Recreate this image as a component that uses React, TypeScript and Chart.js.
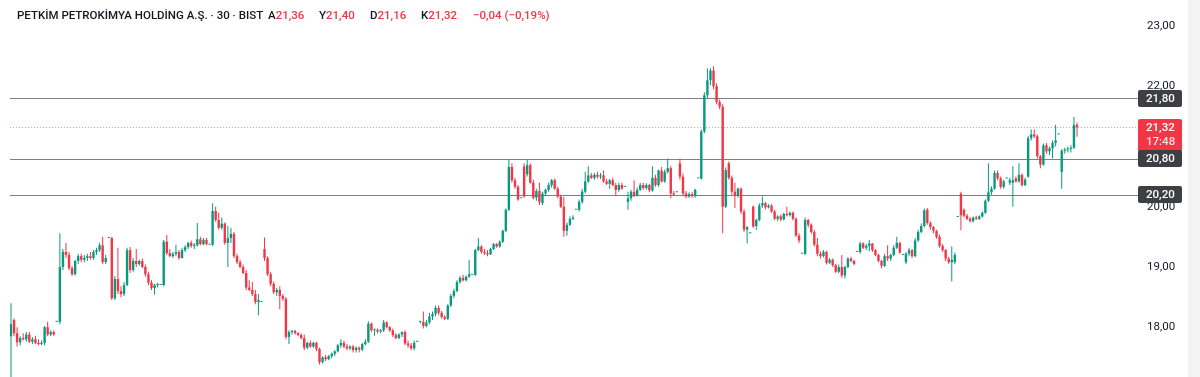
import React, { useEffect, useRef } from 'react';
import { Chart, registerables } from 'chart.js';

Chart.register(...registerables);

// ---- header texts ----
const symbolTitle = 'PETKİM PETROKİMYA HOLDİNG A.Ş. · 30 · BIST';
const ohlcLetters = ['A', 'Y', 'D', 'K'];
const ohlcValues = ['21,36', '21,40', '21,16', '21,32'];
const changeText = '−0,04 (−0,19%)';

// ---- price axis / levels ----
const yTickValues = [18, 19, 20, 21, 22, 23];
const yMinPrice = 17.174;
const yMaxPrice = 23.4315;
const levelPrices = [21.8, 20.8, 20.2];
const lastPrice = 21.32;
const countdownText = '17:48';

// ---- 30m candles [open, high, low, close] ----
const seg01 = [
  [17.85, 18.4, 17.15, 18.05], [18.12, 18.15, 17.85, 17.9], [17.9, 18.0, 17.68, 17.75], [17.75, 17.85, 17.7, 17.82],
  [17.82, 17.9, 17.78, 17.8], [17.8, 17.92, 17.76, 17.88], [17.88, 17.92, 17.74, 17.76], [17.76, 17.84, 17.72, 17.8],
  [17.8, 17.86, 17.72, 17.74], [17.74, 17.8, 17.7, 17.72], [17.72, 17.78, 17.7, 17.74], [17.74, 18.02, 17.7, 18.0],
  [18.0, 18.09, 17.85, 17.88], [17.88, 17.95, 17.85, 17.92], [17.92, 17.95, 17.86, 17.88], [18.09, 18.09, 18.09, 18.09],
];
const seg02 = [
  [18.09, 19.56, 18.05, 19.0], [19.0, 19.3, 18.95, 19.25], [19.25, 19.4, 19.15, 19.2], [19.2, 19.25, 18.95, 18.98],
  [18.98, 19.02, 18.85, 18.88], [18.88, 19.12, 18.86, 19.1], [19.1, 19.22, 19.05, 19.18], [19.18, 19.22, 19.08, 19.12],
  [19.12, 19.2, 19.08, 19.15], [19.15, 19.22, 19.1, 19.18], [19.18, 19.25, 19.12, 19.15], [19.15, 19.28, 19.12, 19.25],
  [19.25, 19.32, 19.2, 19.28], [19.28, 19.4, 19.25, 19.36], [19.36, 19.5, 19.05, 19.08], [19.08, 19.2, 19.05, 19.15],
  [19.48, 19.48, 19.48, 19.48],
];
const seg03 = [
  [19.48, 19.5, 18.45, 18.48], [18.48, 18.85, 18.45, 18.8], [18.8, 19.32, 18.55, 18.6], [18.6, 18.68, 18.5, 18.55],
  [18.55, 18.75, 18.52, 18.7], [18.7, 19.32, 18.68, 19.28], [19.28, 19.33, 18.9, 18.95], [18.95, 19.15, 18.92, 19.1],
  [19.1, 19.3, 19.0, 19.05], [19.05, 19.12, 19.02, 19.1], [19.1, 19.14, 18.98, 19.0], [19.0, 19.04, 18.84, 18.88],
  [18.88, 18.92, 18.7, 18.74], [18.74, 18.78, 18.62, 18.65], [18.65, 18.72, 18.54, 18.7], [18.7, 18.74, 18.66, 18.7],
  [18.7, 18.7, 18.7, 18.7],
];
const seg04 = [
  [18.7, 19.45, 18.68, 19.42], [19.42, 19.53, 19.2, 19.23], [19.23, 19.3, 19.16, 19.18], [19.18, 19.25, 19.15, 19.22],
  [19.22, 19.37, 19.18, 19.25], [19.25, 19.28, 19.12, 19.15], [19.15, 19.32, 19.14, 19.28], [19.28, 19.36, 19.25, 19.33],
  [19.33, 19.42, 19.3, 19.4], [19.4, 19.44, 19.32, 19.35], [19.35, 19.4, 19.3, 19.36], [19.36, 19.73, 19.34, 19.46],
  [19.46, 19.5, 19.36, 19.38], [19.38, 19.48, 19.36, 19.45], [19.45, 19.48, 19.36, 19.38], [19.37, 19.37, 19.37, 19.37],
];
const seg05 = [
  [19.37, 20.06, 19.35, 19.93], [19.93, 20.0, 19.75, 19.78], [19.78, 19.9, 19.62, 19.65], [19.65, 19.82, 19.62, 19.72],
  [19.72, 19.74, 19.37, 19.4], [19.4, 19.68, 19.0, 19.48], [19.48, 19.65, 19.4, 19.55], [19.55, 19.58, 19.15, 19.18],
  [19.18, 19.22, 19.05, 19.08], [19.08, 19.12, 18.98, 19.0], [19.0, 19.04, 18.88, 18.9], [18.9, 18.95, 18.62, 18.66],
  [18.66, 18.78, 18.6, 18.62], [18.62, 18.75, 18.52, 18.55], [18.55, 18.62, 18.38, 18.42], [18.42, 18.55, 18.2, 18.45],
  [18.42, 18.42, 18.42, 18.42],
];
const seg06 = [
  [19.3, 19.49, 19.1, 19.15], [19.15, 19.18, 18.85, 18.88], [18.88, 18.92, 18.68, 18.72], [18.72, 18.76, 18.55, 18.58],
  [18.58, 18.65, 18.52, 18.62], [18.62, 18.68, 18.3, 18.52], [18.52, 18.55, 18.44, 18.47], [18.47, 18.5, 17.8, 17.84],
  [17.84, 17.95, 17.72, 17.92], [17.92, 17.96, 17.88, 17.94], [17.94, 17.96, 17.88, 17.9], [17.9, 17.92, 17.85, 17.87],
  [17.87, 17.9, 17.8, 17.82], [17.82, 17.88, 17.62, 17.66], [17.66, 17.76, 17.64, 17.74], [17.74, 17.78, 17.66, 17.68],
  [17.68, 17.76, 17.66, 17.74],
];
const seg07 = [
  [17.74, 17.76, 17.6, 17.64], [17.64, 17.66, 17.38, 17.42], [17.42, 17.52, 17.4, 17.5], [17.5, 17.54, 17.44, 17.47],
  [17.47, 17.54, 17.45, 17.52], [17.52, 17.58, 17.48, 17.56], [17.56, 17.62, 17.52, 17.6], [17.6, 17.72, 17.58, 17.7],
  [17.7, 17.8, 17.66, 17.74], [17.74, 17.78, 17.65, 17.68], [17.68, 17.72, 17.62, 17.65], [17.65, 17.7, 17.62, 17.68],
  [17.68, 17.71, 17.58, 17.62], [17.62, 17.68, 17.58, 17.66], [17.66, 17.68, 17.58, 17.63], [17.63, 17.74, 17.6, 17.72],
  [17.72, 17.8, 17.7, 17.76],
];
const seg08 = [
  [17.76, 18.1, 17.74, 18.06], [18.06, 18.08, 17.92, 17.95], [17.95, 17.98, 17.86, 17.96], [17.96, 17.98, 17.9, 17.93],
  [17.93, 17.97, 17.9, 17.95], [17.95, 18.12, 17.92, 18.08], [18.08, 18.1, 17.98, 18.0], [18.0, 18.02, 17.92, 17.95],
  [17.95, 17.98, 17.84, 17.87], [17.87, 17.9, 17.8, 17.82], [17.82, 17.9, 17.8, 17.88], [17.88, 17.93, 17.84, 17.92],
  [17.92, 17.95, 17.7, 17.73], [17.73, 17.78, 17.66, 17.7], [17.7, 17.74, 17.62, 17.65], [17.65, 17.78, 17.62, 17.74],
  [17.76, 17.76, 17.76, 17.76],
];
const seg09 = [
  [18.09, 18.1, 18.06, 18.09], [18.09, 18.26, 17.98, 18.02], [18.02, 18.12, 18.0, 18.08], [18.08, 18.24, 18.05, 18.18],
  [18.18, 18.26, 18.12, 18.22], [18.22, 18.36, 18.18, 18.32], [18.32, 18.36, 18.2, 18.24], [18.24, 18.27, 18.14, 18.17],
  [18.17, 18.2, 18.12, 18.14], [18.14, 18.38, 18.12, 18.36], [18.36, 18.55, 18.33, 18.52], [18.52, 18.64, 18.48, 18.6],
  [18.6, 18.78, 18.58, 18.75], [18.75, 18.85, 18.72, 18.82], [18.82, 18.87, 18.76, 18.78], [18.78, 18.86, 18.76, 18.84],
  [18.84, 19.12, 18.82, 18.88], [18.87, 18.87, 18.87, 18.87],
];
const seg10 = [
  [18.87, 19.3, 18.85, 19.28], [19.28, 19.48, 19.26, 19.34], [19.34, 19.36, 19.22, 19.25], [19.25, 19.3, 19.2, 19.23],
  [19.23, 19.28, 19.18, 19.21], [19.21, 19.32, 19.2, 19.3], [19.3, 19.4, 19.28, 19.38], [19.38, 19.4, 19.32, 19.34],
  [19.34, 19.44, 19.32, 19.42], [19.42, 19.62, 19.4, 19.6], [19.6, 19.97, 19.58, 19.95], [19.95, 20.78, 19.93, 20.66],
  [20.66, 20.72, 20.4, 20.44], [20.44, 20.48, 20.3, 20.33], [20.33, 20.36, 20.1, 20.12], [20.14, 20.14, 20.14, 20.14],
];
const seg11 = [
  [20.67, 20.72, 20.15, 20.17], [20.54, 20.78, 20.5, 20.69], [20.69, 20.72, 20.38, 20.4], [20.4, 20.45, 20.12, 20.15],
  [20.15, 20.3, 20.1, 20.26], [20.26, 20.4, 20.03, 20.08], [20.06, 20.25, 20.03, 20.22], [20.22, 20.3, 20.18, 20.28],
  [20.28, 20.4, 20.25, 20.36], [20.36, 20.46, 20.32, 20.44], [20.44, 20.47, 20.28, 20.3], [20.3, 20.33, 20.14, 20.17],
  [20.17, 20.2, 19.98, 20.0], [20.0, 20.16, 19.5, 19.6], [19.6, 19.74, 19.52, 19.7], [19.7, 19.84, 19.68, 19.8],
  [19.8, 19.86, 19.78, 19.82], [19.95, 19.95, 19.95, 19.95],
];
const seg12 = [
  [19.95, 20.12, 19.92, 20.08], [20.08, 20.3, 20.05, 20.25], [20.25, 20.58, 20.22, 20.42], [20.42, 20.67, 20.4, 20.52],
  [20.52, 20.56, 20.46, 20.48], [20.48, 20.56, 20.45, 20.53], [20.53, 20.58, 20.47, 20.5], [20.5, 20.56, 20.46, 20.52],
  [20.52, 20.6, 20.4, 20.42], [20.42, 20.46, 20.36, 20.38], [20.38, 20.46, 20.3, 20.44], [20.44, 20.48, 20.34, 20.36],
  [20.36, 20.4, 20.19, 20.28], [20.28, 20.4, 20.25, 20.36], [20.36, 20.4, 20.28, 20.3], [20.33, 20.33, 20.33, 20.33],
];
const seg13 = [
  [20.08, 20.25, 19.95, 20.14], [20.14, 20.28, 20.1, 20.25], [20.25, 20.44, 20.16, 20.19], [20.19, 20.32, 20.17, 20.28],
  [20.28, 20.4, 20.26, 20.36], [20.36, 20.4, 20.28, 20.31], [20.31, 20.39, 20.28, 20.36], [20.36, 20.38, 20.24, 20.27],
  [20.27, 20.67, 20.25, 20.48], [20.48, 20.53, 20.33, 20.36], [20.36, 20.62, 20.33, 20.6], [20.6, 20.66, 20.4, 20.42],
  [20.42, 20.62, 20.4, 20.58], [20.58, 20.8, 20.55, 20.64], [20.64, 20.68, 20.14, 20.22], [20.22, 20.26, 20.18, 20.2],
  [20.24, 20.24, 20.24, 20.24],
];
const seg14 = [
  [20.72, 20.8, 20.45, 20.5], [20.5, 20.55, 20.18, 20.22], [20.22, 20.26, 20.14, 20.17], [20.17, 20.24, 20.15, 20.21],
  [20.21, 20.25, 20.15, 20.18], [20.18, 20.3, 20.15, 20.28], [20.47, 20.47, 20.47, 20.47], [20.47, 21.28, 20.45, 21.25],
  [21.25, 21.9, 21.22, 21.85], [21.85, 22.3, 21.8, 22.1], [22.1, 22.3, 22.02, 22.26], [22.26, 22.33, 21.95, 22.0],
  [22.0, 22.05, 21.7, 21.74], [21.74, 21.78, 21.62, 21.66], [21.66, 21.7, 19.56, 20.0], [20.0, 20.65, 19.98, 20.61],
  [20.72, 20.75, 20.45, 20.48],
];
const seg15 = [
  [20.48, 20.52, 20.2, 20.25], [20.25, 20.4, 19.98, 20.18], [20.18, 20.32, 20.15, 20.3], [20.3, 20.32, 19.88, 19.92],
  [19.92, 19.96, 19.58, 19.62], [19.62, 19.68, 19.39, 19.66], [19.56, 19.56, 19.56, 19.56], [20.0, 20.02, 19.65, 19.67],
  [19.68, 19.8, 19.62, 19.78], [19.78, 20.06, 19.76, 20.02], [20.02, 20.17, 19.98, 20.06], [20.06, 20.08, 19.96, 19.99],
  [19.99, 20.04, 19.97, 20.02], [20.02, 20.04, 19.9, 19.92], [19.92, 19.95, 19.78, 19.8], [19.8, 19.86, 19.76, 19.84],
  [19.84, 19.87, 19.76, 19.79], [19.79, 19.9, 19.77, 19.88], [19.88, 20.0, 19.84, 19.86], [19.86, 19.92, 19.84, 19.9],
  [19.9, 19.92, 19.77, 19.8], [19.8, 19.82, 19.5, 19.52], [19.52, 19.56, 19.4, 19.44], [19.22, 19.22, 19.22, 19.22],
];
const seg16 = [
  [19.22, 19.82, 19.2, 19.78], [19.78, 19.8, 19.66, 19.7], [19.7, 19.72, 19.55, 19.58], [19.58, 19.62, 19.34, 19.37],
  [19.37, 19.48, 19.18, 19.22], [19.22, 19.26, 19.14, 19.18], [19.18, 19.28, 19.16, 19.25], [19.25, 19.27, 19.04, 19.07],
  [19.07, 19.15, 19.05, 19.12], [19.12, 19.14, 19.0, 19.03], [19.03, 19.05, 18.9, 18.92], [18.92, 19.04, 18.9, 19.0],
  [19.0, 19.2, 18.82, 18.86], [18.86, 19.02, 18.81, 19.0], [19.0, 19.16, 18.98, 19.14], [19.14, 19.17, 19.08, 19.1],
  [19.1, 19.12, 19.03, 19.05], [19.25, 19.25, 19.25, 19.25],
];
const seg17 = [
  [19.25, 19.42, 19.22, 19.39], [19.39, 19.41, 19.3, 19.32], [19.32, 19.38, 19.28, 19.35], [19.35, 19.45, 19.26, 19.39],
  [19.39, 19.4, 19.25, 19.28], [19.28, 19.3, 19.18, 19.2], [19.2, 19.22, 19.08, 19.1], [19.1, 19.12, 18.98, 19.02],
  [19.02, 19.22, 19.0, 19.18], [19.18, 19.36, 19.1, 19.14], [19.14, 19.22, 19.1, 19.2], [19.2, 19.36, 19.18, 19.32],
  [19.32, 19.5, 19.3, 19.4], [19.4, 19.42, 19.22, 19.24], [19.2, 19.2, 19.2, 19.2],
];
const seg18 = [
  [19.08, 19.25, 19.05, 19.22], [19.22, 19.32, 19.18, 19.28], [19.28, 19.3, 19.15, 19.18], [19.18, 19.48, 19.16, 19.44],
  [19.44, 19.62, 19.42, 19.58], [19.58, 19.72, 19.56, 19.68], [19.68, 19.97, 19.66, 19.94], [19.95, 19.98, 19.7, 19.73],
  [19.73, 19.76, 19.62, 19.66], [19.66, 19.68, 19.56, 19.6], [19.6, 19.62, 19.47, 19.5], [19.5, 19.54, 19.32, 19.35],
  [19.35, 19.38, 19.25, 19.28], [19.28, 19.3, 19.1, 19.14], [19.14, 19.17, 19.05, 19.08], [19.08, 19.34, 18.76, 19.12],
  [19.08, 19.24, 19.05, 19.2], [19.83, 19.83, 19.83, 19.83],
];
const seg19 = [
  [20.22, 20.25, 19.61, 19.86], [19.95, 19.97, 19.83, 19.85], [19.85, 19.88, 19.78, 19.8], [19.8, 19.83, 19.74, 19.76],
  [19.76, 19.84, 19.74, 19.82], [19.82, 19.85, 19.78, 19.8], [19.8, 19.86, 19.78, 19.84], [19.84, 19.92, 19.82, 19.9],
  [19.9, 20.12, 19.88, 20.1], [20.1, 20.72, 20.08, 20.24], [20.24, 20.34, 20.2, 20.3], [20.3, 20.6, 20.28, 20.56],
  [20.56, 20.6, 20.44, 20.47], [20.47, 20.5, 20.3, 20.33], [20.33, 20.45, 20.3, 20.42], [20.47, 20.47, 20.47, 20.47],
];
const seg20 = [
  [20.4, 20.48, 20.36, 20.44], [20.4, 20.67, 20.0, 20.44], [20.47, 20.5, 20.4, 20.42], [20.42, 20.72, 20.4, 20.53],
  [20.53, 20.55, 20.33, 20.36], [20.36, 20.48, 20.34, 20.45], [20.5, 21.18, 20.48, 21.14], [21.14, 21.28, 21.1, 21.2],
  [21.2, 21.28, 21.14, 21.17], [21.17, 21.2, 20.8, 20.84], [20.84, 20.86, 20.64, 20.7], [20.7, 21.05, 20.68, 21.02],
  [21.02, 21.06, 20.88, 20.92], [20.92, 21.0, 20.86, 20.97], [20.97, 21.1, 20.8, 21.06], [21.06, 21.36, 21.0, 21.1],
  [21.2, 21.2, 21.2, 21.2],
];
const seg21 = [
  [20.58, 20.96, 20.3, 20.93], [20.93, 20.98, 20.88, 20.95], [20.95, 21.0, 20.9, 20.96], [20.96, 21.02, 20.9, 20.98],
  [20.98, 21.49, 20.96, 21.36], [21.36, 21.4, 21.16, 21.32],
];

const candles = [
  ...seg01, ...seg02, ...seg03, ...seg04, ...seg05, ...seg06, ...seg07, ...seg08, ...seg09, ...seg10, ...seg11,
  ...seg12, ...seg13, ...seg14, ...seg15, ...seg16, ...seg17, ...seg18, ...seg19, ...seg20, ...seg21,
];

const UP = '#089981';
const DOWN = '#f23645';
const TEXT = '#131722';
const FONT = "Roboto, 'Liberation Sans', Arial, sans-serif";

// layout (pixels)
const W = 1200;
const H = 377;
const PLOT_LEFT = 10;
const AXIS_W = 62;
const FIRST_X = 11;
const LAST_X = 1077;

function fmt(v: number) {
  return v.toFixed(2).replace('.', ',');
}

function roundRect(ctx: CanvasRenderingContext2D, x: number, y: number, w: number, h: number, r: number) {
  ctx.beginPath();
  ctx.moveTo(x + r, y);
  ctx.lineTo(x + w - r, y);
  ctx.quadraticCurveTo(x + w, y, x + w, y + r);
  ctx.lineTo(x + w, y + h - r);
  ctx.quadraticCurveTo(x + w, y + h, x + w - r, y + h);
  ctx.lineTo(x + r, y + h);
  ctx.quadraticCurveTo(x, y + h, x, y + h - r);
  ctx.lineTo(x, y + r);
  ctx.quadraticCurveTo(x, y, x + r, y);
  ctx.closePath();
}

const overlayPlugin = {
  id: 'tvOverlay',
  beforeDraw(chart: any) {
    const { ctx, width, height } = chart;
    ctx.save();
    ctx.fillStyle = '#ffffff';
    ctx.fillRect(0, 0, width, height);
    ctx.fillStyle = '#f3f3f3';
    ctx.fillRect(1188, 0, 12, height);
    ctx.restore();
  },
  beforeDatasetsDraw(chart: any) {
    const { ctx, chartArea } = chart;
    const y = chart.scales.y;
    ctx.save();
    const py = Math.round(y.getPixelForValue(lastPrice)) + 0.5;
    ctx.strokeStyle = 'rgba(242,54,69,0.55)';
    ctx.lineWidth = 1;
    ctx.setLineDash([1, 2]);
    ctx.beginPath();
    ctx.moveTo(chartArea.left, py);
    ctx.lineTo(chartArea.right, py);
    ctx.stroke();
    ctx.setLineDash([]);
    ctx.strokeStyle = '#808080';
    levelPrices.forEach((p) => {
      const yy = Math.round(y.getPixelForValue(p)) + 0.5;
      ctx.beginPath();
      ctx.moveTo(chartArea.left, yy);
      ctx.lineTo(chartArea.right, yy);
      ctx.stroke();
    });
    ctx.restore();
  },
  afterDraw(chart: any) {
    const { ctx, chartArea } = chart;
    const y = chart.scales.y;
    const bx = chartArea.right;
    const bw = 44;
    ctx.save();
    ctx.font = `500 11.5px ${FONT}`;
    ctx.textBaseline = 'middle';
    ctx.textAlign = 'left';
    const py = y.getPixelForValue(lastPrice);
    ctx.fillStyle = DOWN;
    roundRect(ctx, bx, Math.round(py - 8), bw, 33, 2);
    ctx.fill();
    ctx.fillStyle = '#ffffff';
    ctx.fillText(fmt(lastPrice), bx + 8, py + 0.5);
    ctx.fillStyle = 'rgba(255,255,255,0.85)';
    ctx.fillText(countdownText, bx + 8, py + 14.5);
    levelPrices.forEach((p) => {
      const yy = y.getPixelForValue(p);
      ctx.fillStyle = '#3e3f43';
      roundRect(ctx, bx, Math.round(yy - 8.5), bw, 17, 2);
      ctx.fill();
      ctx.fillStyle = '#ffffff';
      ctx.fillText(fmt(p), bx + 8, yy + 0.5);
    });
    ctx.restore();
  },
};

export default function App() {
  const canvasRef = useRef<HTMLCanvasElement | null>(null);

  useEffect(() => {
    const canvas = canvasRef.current;
    if (!canvas) return;
    const n = candles.length;
    const spacing = (LAST_X - FIRST_X) / (n - 1);
    const plotWidth = W - AXIS_W - PLOT_LEFT;
    const xMin = -(FIRST_X - PLOT_LEFT) / spacing;
    const xMax = xMin + plotWidth / spacing;

    const colors = candles.map((c) => (c[3] >= c[0] ? UP : DOWN));
    const wicks = candles.map((c, i) => ({ x: i, y: [c[2], c[1]] }));
    const bodies = candles.map((c, i) => ({ x: i, y: [Math.min(c[0], c[3]), Math.max(c[0], c[3])] }));

    const chart = new Chart(canvas, {
      type: 'bar',
      data: {
        datasets: [
          {
            data: wicks as any,
            backgroundColor: colors,
            barThickness: 1,
            grouped: false,
            borderWidth: 0,
            inflateAmount: 0,
            order: 2,
          } as any,
          {
            data: bodies as any,
            backgroundColor: colors,
            barThickness: 2.4,
            grouped: false,
            borderWidth: 0,
            inflateAmount: 0,
            minBarLength: 1,
            order: 1,
          } as any,
        ],
      },
      options: {
        responsive: false,
        maintainAspectRatio: false,
        devicePixelRatio: 1,
        animation: false,
        events: [],
        layout: { padding: { left: PLOT_LEFT, right: 0, top: 0, bottom: 0 } },
        plugins: { legend: { display: false }, tooltip: { enabled: false }, title: { display: false } },
        scales: {
          x: {
            type: 'linear',
            display: false,
            min: xMin,
            max: xMax,
            offset: false,
            grid: { display: false },
          },
          y: {
            type: 'linear',
            position: 'right',
            min: yMinPrice,
            max: yMaxPrice,
            beginAtZero: false,
            grid: { display: false, drawTicks: false },
            border: { display: false },
            afterFit: (s: any) => {
              s.width = AXIS_W;
              s.paddingTop = 0;
              s.paddingBottom = 0;
            },
            afterBuildTicks: (s: any) => {
              s.ticks = yTickValues.map((v) => ({ value: v }));
            },
            ticks: {
              padding: 9,
              color: TEXT,
              font: { family: FONT, size: 11.5 },
              autoSkip: false,
              callback: (v: any) => fmt(Number(v)),
            },
          },
        },
      } as any,
      plugins: [overlayPlugin],
    });
    return () => chart.destroy();
  }, []);

  const hdrBase: React.CSSProperties = {
    position: 'absolute',
    top: 8,
    lineHeight: '14px',
    fontFamily: FONT,
    fontSize: 11.5,
    fontWeight: 500,
    whiteSpace: 'nowrap',
    color: TEXT,
  };
  const groupLefts = [268, 319, 370, 421];

  return (
    <div style={{ position: 'absolute', left: 0, top: 0, width: W, height: H, overflow: 'hidden', background: '#fff' }}>
      <canvas ref={canvasRef} width={W} height={H} style={{ display: 'block', width: W, height: H }} />
      <div style={{ ...hdrBase, left: 17 }}>{symbolTitle}</div>
      {ohlcLetters.map((l, i) => (
        <div key={l} style={{ ...hdrBase, left: groupLefts[i] }}>
          {l}
          <span style={{ color: DOWN }}>{ohlcValues[i]}</span>
        </div>
      ))}
      <div style={{ ...hdrBase, left: 473, color: DOWN }}>{changeText}</div>
    </div>
  );
}
